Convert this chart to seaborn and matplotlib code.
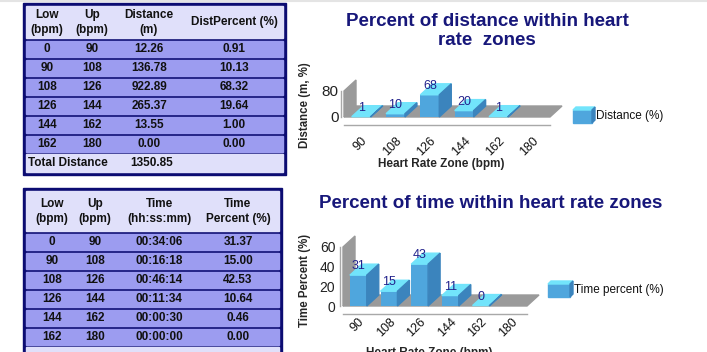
''' Heart rate zone report: two tables plus two pseudo-3D column charts '''
import numpy as np
import pandas as pd
import seaborn as sns
import matplotlib.pyplot as plt
from matplotlib.patches import Rectangle, Polygon

# table data
low_bpm = [0, 90, 108, 126, 144, 162]
up_bpm = [90, 108, 126, 144, 162, 180]
distance_m = [12.26, 136.78, 922.89, 265.37, 13.55, 0.00]
dist_percent = [0.91, 10.13, 68.32, 19.64, 1.00, 0.00]
total_distance = 1350.85
time_hms = ["00:34:06", "00:16:18", "00:46:14", "00:11:34", "00:00:30", "00:00:00"]
time_percent = [31.37, 15.00, 42.53, 10.64, 0.46, 0.00]

# chart data (the 162-180 zone has no column in the charts)
zones = ["90", "108", "126", "144", "162", "180"]
dist_bars = [0.91, 10.13, 68.32, 19.64, 1.00]
time_bars = [31.37, 15.00, 42.53, 10.64, 0.46]

NAVY = "#0c0c72"
LAV = "#e0e0fa"
ROW = "#9c9cf0"
TITLE = "#17177a"
VALUE = "#22228c"
FRONT, TOP, SIDE = "#4fa6dd", "#72e4fb", "#3b84bd"
GRAY = "#9a9a9a"
AXIS = "#a8a8a8"

sns.set_style("white")
plt.rcParams["font.family"] = ["Liberation Sans", "DejaVu Sans"]

W, H = 707, 352
fig = plt.figure(figsize=(W / 100, H / 100), dpi=100)
bg = fig.add_axes([0, 0, 1, 1])
bg.set_xlim(0, W)
bg.set_ylim(H, 0)
bg.axis("off")
bg.plot([0, W], [0.5, 0.5], color="#e4e4e4", lw=1.5)


def cell(x, y, s, ha="center"):
    bg.text(x, y, s, ha=ha, va="center", fontsize=8.5, fontweight="bold",
            color="#111111", linespacing=1.25)


def table(x0, x1, y0, y1, head_bottom, row0, cols, headers, rows):
    bg.add_patch(Rectangle((x0, y0), x1 - x0, y1 - y0, color=NAVY))
    bg.add_patch(Rectangle((x0 + 3, y0 + 3), x1 - x0 - 6, head_bottom - y0 - 3, color=LAV))
    for cx, h in zip(cols, headers):
        cell(cx, (y0 + 3 + head_bottom) / 2 + 0.5, h)
    for i, row in enumerate(rows):
        yc = row0 + 19 * i
        bg.add_patch(Rectangle((x0 + 3, yc - 8), x1 - x0 - 6, 16, color=ROW))
        for cx, v in zip(cols, row):
            cell(cx, yc, v)
    return row0 + 19 * len(rows)


# distance table
rows = [[str(a), str(b), f"{d:.2f}", f"{p:.2f}"]
        for a, b, d, p in zip(low_bpm, up_bpm, distance_m, dist_percent)]
yt = table(23, 286, 3, 175, 38, 49, [47, 92, 149, 234],
           ["Low\n(bpm)", "Up\n(bpm)", "Distance\n(m)", "DistPercent (%)"], rows)
bg.add_patch(Rectangle((26, yt - 9), 257, 18, color=LAV))
cell(28, yt, "Total Distance", ha="left")
cell(152, yt, f"{total_distance:.2f}")

# time table
rows = [[str(a), str(b), t, f"{p:.2f}"]
        for a, b, t, p in zip(low_bpm, up_bpm, time_hms, time_percent)]
yt = table(23, 282, 188, 372, 231, 242, [52, 95, 159, 238],
           ["Low\n(bpm)", "Up\n(bpm)", "Time\n(hh:ss:mm)", "Time\nPercent (%)"], rows)
bg.add_patch(Rectangle((26, yt - 9), 253, 20, color=LAV))


def chart(left, right, base, top, values, ymax, yticks, ylabel, ylab_y,
          xlab_y, tick_pad, ytick_size, ypad):
    ax = fig.add_axes([left / W, (H - base) / H, (right - left) / W, (base - top) / H])
    ax.patch.set_alpha(0)
    df = pd.DataFrame({"zone": zones[:len(values)], "pct": values})
    sns.barplot(data=df, x="zone", y="pct", order=zones, width=0.55, color=FRONT,
                saturation=1, errorbar=None, linewidth=0, ax=ax, zorder=3)
    ax.set_xlim(-0.5, 5.5)
    ax.set_ylim(0, ymax)
    bars = [p for p in ax.patches if not np.isnan(p.get_height())]

    # depth offset of the 3D look, 12 px right and 11 px up
    o = ax.transData.transform((0, 0))
    ddx, ddy = ax.transData.inverted().transform(o + np.array([12, 11]))

    ax.add_patch(Polygon([(-0.5, 0), (5.5, 0), (5.5 + ddx, ddy), (-0.5 + ddx, ddy)],
                         color=GRAY, zorder=1, clip_on=False))
    ax.add_patch(Polygon([(-0.5, 0), (-0.5, ymax), (-0.5 + ddx, ymax + ddy), (-0.5 + ddx, ddy)],
                         color=GRAY, zorder=1, clip_on=False))
    for p in bars:
        x0, w, h = p.get_x(), p.get_width(), p.get_height()
        ax.add_patch(Polygon([(x0, h), (x0 + w, h), (x0 + w + ddx, h + ddy), (x0 + ddx, h + ddy)],
                             color=TOP, zorder=4, clip_on=False))
        ax.add_patch(Polygon([(x0 + w, 0), (x0 + w, h), (x0 + w + ddx, h + ddy), (x0 + w + ddx, ddy)],
                             color=SIDE, zorder=4, clip_on=False))
        ax.annotate(f"{h:.0f}", (x0 + w / 2, h), xytext=(0, 9), textcoords="offset pixels",
                    ha="center", va="center", fontsize=9, color=VALUE, zorder=6)

    sns.despine(ax=ax)
    ax.spines["bottom"].set_position(("outward", 6))
    ax.spines["left"].set_position(("outward", 2))
    for s in ("left", "bottom"):
        ax.spines[s].set_color(AXIS)
        ax.spines[s].set_linewidth(1)
    ax.set_xticks(range(len(zones)))
    ax.set_xticklabels(zones, rotation=45, ha="right", rotation_mode="anchor", fontsize=9)
    ax.set_xticks(np.arange(-0.5, 6, 1), minor=True)
    ax.tick_params(axis="x", which="major", length=0, pad=tick_pad, colors="#111111")
    ax.tick_params(axis="x", which="minor", length=4, direction="in", color=AXIS, width=1)
    ax.set_yticks(yticks)
    ax.tick_params(axis="y", length=0, pad=ypad, labelsize=ytick_size, colors="#222222")

    ax.set_ylabel(ylabel, fontsize=8.3, fontweight="bold")
    ax.yaxis.set_label_coords(311, ylab_y, transform=bg.transData)
    ax.set_xlabel("Heart Rate Zone (bpm)", fontsize=8.5, fontweight="bold")
    ax.xaxis.set_label_coords((left + right) / 2 - 6, xlab_y, transform=bg.transData)
    return ax


chart(344, 550, 117, 91, dist_bars, 80, [0, 80], "Distance (m, %)", 105, 158, 7, 11, 2)
chart(343, 527, 306, 247, time_bars, 60, [0, 20, 40, 60], "Time Percent (%)", 280, 347, 1, 10, 3.5)

bg.text(487, 31, "Percent of distance within heart\nrate  zones", ha="center", va="center",
        fontsize=13.5, fontweight="bold", color=TITLE, linespacing=1.1)
bg.text(491, 203, "Percent of time within heart rate zones", ha="center", va="center",
        fontsize=13.5, fontweight="bold", color=TITLE)


def legend_box(x, y, w, h, label):
    bg.add_patch(Rectangle((x, y), w, h, color=FRONT))
    bg.add_patch(Polygon([(x, y), (x + w, y), (x + w + 3, y - 3), (x + 3, y - 3)], color=TOP))
    bg.add_patch(Polygon([(x + w, y), (x + w + 3, y - 3), (x + w + 3, y + h - 3), (x + w, y + h)],
                         color=SIDE))
    bg.text(x + w + 4, y + h / 2, label, ha="left", va="center", fontsize=8.5, color="#111111")


legend_box(573, 110, 19, 13, "Distance (%)")
legend_box(548, 284, 22, 13, "Time percent (%)")

fig.savefig("out.png", dpi=100)
